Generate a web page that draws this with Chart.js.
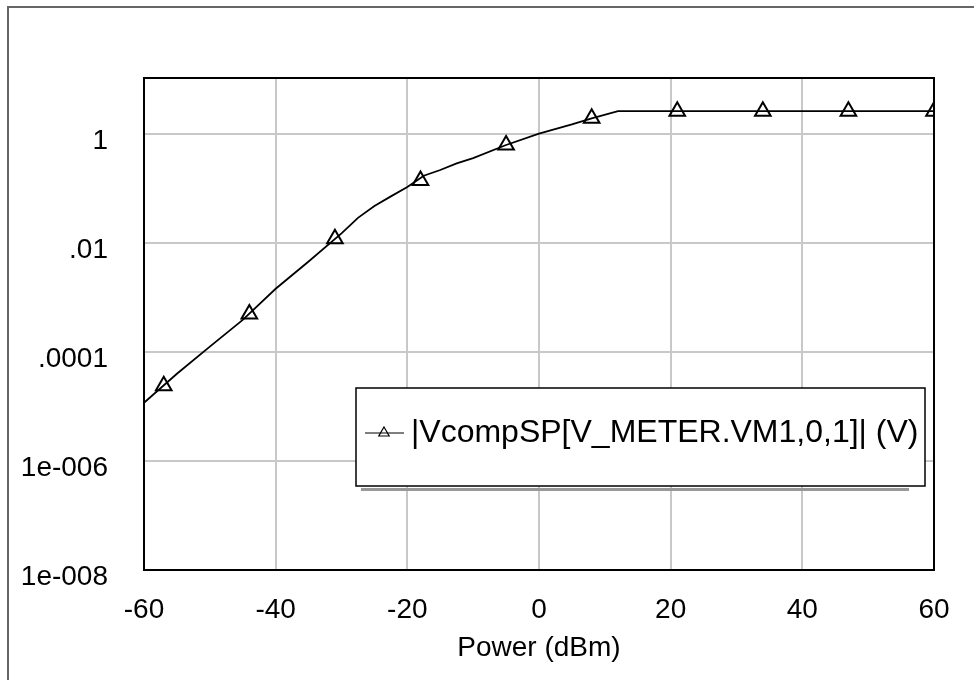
<!DOCTYPE html>
<html>
<head>
<meta charset="utf-8">
<title>VcompSP vs Power</title>
<script src="https://cdn.jsdelivr.net/npm/chart.js@4.4.1/dist/chart.umd.min.js"></script>
<style>
    html, body { margin: 0; padding: 0; background: #fff; }
</style>
</head>
<body>
<canvas id="chart" width="974" height="680"></canvas>
<script>
// Curve: |VcompSP| (V) against input power (dBm)
const powerDbm = [-60, -55, -50, -45, -40, -35, -30, -27.5, -25, -22.5, -20, -17.5, -15, -12.5, -10, -5, 0, 5, 8, 12, 60];
const voltage = [1.17e-5, 4.0e-5, 1.26e-4, 3.9e-4, 1.45e-3, 4.6e-3, 0.0151, 0.029, 0.048, 0.072, 0.107, 0.172, 0.219, 0.29, 0.363, 0.63, 1.02, 1.51, 1.95, 2.63, 2.63];

// Triangle markers along the curve
const markerDbm = [-57, -44, -31, -18, -5, 8, 21, 34, 47, 60];
const markerV = [2.4e-5, 5.0e-4, 0.012, 0.141, 0.63, 1.95, 2.63, 2.63, 2.63, 2.63];

// Axis ticks
const xTicks = [-60, -40, -20, 0, 20, 40, 60];
const yTicks = [1e-8, 1e-6, 1e-4, 1e-2, 1];
const yTickLabels = ['1e-008', '1e-006', '.0001', '.01', '1'];

const seriesName = '|VcompSP[V_METER.VM1,0,1]| (V)';
const xTitle = 'Power (dBm)';

const FONT = '"Liberation Sans", Arial, sans-serif';

// Outer frame, plot border and the boxed legend
const framePlugin = {
    id: 'frame',
    beforeDraw(chart) {
        const ctx = chart.ctx;
        ctx.save();
        ctx.strokeStyle = '#666';
        ctx.lineWidth = 2;
        ctx.beginPath();
        ctx.moveTo(8, chart.height);
        ctx.lineTo(8, 7);
        ctx.lineTo(chart.width, 7);
        ctx.stroke();
        ctx.restore();
    },
    afterDatasetsDraw(chart) {
        const { ctx, chartArea: a } = chart;
        ctx.save();
        ctx.strokeStyle = '#000';
        ctx.lineWidth = 2;
        ctx.strokeRect(a.left, a.top, a.right - a.left, a.bottom - a.top);
        ctx.restore();
    },
    afterDraw(chart) {
        const { ctx, chartArea: a } = chart;
        const left = a.left + 212, right = a.right - 9;
        const top = a.top + 310, bottom = a.top + 408;
        ctx.save();
        // shadow
        ctx.fillStyle = '#999';
        ctx.fillRect(left + 5, bottom + 2, right - left - 21, 3);
        // box
        ctx.fillStyle = '#fff';
        ctx.fillRect(left, top, right - left, bottom - top);
        ctx.strokeStyle = '#000';
        ctx.lineWidth = 1.5;
        ctx.strokeRect(left, top, right - left, bottom - top);
        // sample line + triangle
        const cy = top + 45;
        ctx.lineWidth = 1.2;
        ctx.beginPath();
        ctx.moveTo(left + 9, cy);
        ctx.lineTo(left + 48, cy);
        ctx.stroke();
        const tx = left + 28, r = 6;
        ctx.beginPath();
        ctx.moveTo(tx, cy - r);
        ctx.lineTo(tx + r * 0.866, cy + r * 0.5);
        ctx.lineTo(tx - r * 0.866, cy + r * 0.5);
        ctx.closePath();
        ctx.stroke();
        // label
        ctx.fillStyle = '#000';
        ctx.font = '32px ' + FONT;
        ctx.textAlign = 'left';
        ctx.textBaseline = 'middle';
        ctx.fillText(seriesName, left + 55, cy);
        ctx.restore();
    }
};

const curvePoints = powerDbm.map((p, i) => ({ x: p, y: voltage[i] }));
const markerPoints = markerDbm.map((p, i) => ({ x: p, y: markerV[i] }));

new Chart(document.getElementById('chart').getContext('2d'), {
    type: 'line',
    data: {
        datasets: [{
            label: seriesName,
            data: curvePoints,
            borderColor: '#000',
            borderWidth: 1.8,
            pointRadius: 0,
            tension: 0,
            fill: false
        }, {
            label: seriesName + ' markers',
            data: markerPoints,
            showLine: false,
            pointStyle: 'triangle',
            pointRadius: 9,
            pointBorderWidth: 2,
            pointBorderColor: '#000',
            pointBackgroundColor: 'rgba(0,0,0,0)'
        }]
    },
    options: {
        responsive: false,
        devicePixelRatio: 1,
        animation: false,
        layout: { padding: { left: 0, top: 78, right: 40, bottom: 0 } },
        plugins: {
            legend: { display: false },
            tooltip: { enabled: false }
        },
        scales: {
            x: {
                type: 'linear',
                min: -60,
                max: 60,
                afterBuildTicks: scale => { scale.ticks = xTicks.map(v => ({ value: v })); },
                afterFit: scale => { scale.height = 110; },
                grid: { color: '#c8c8c8', lineWidth: 2, drawTicks: false },
                border: { display: false },
                ticks: {
                    color: '#000',
                    font: { family: FONT, size: 28 },
                    padding: 23,
                    maxRotation: 0
                },
                title: {
                    display: true,
                    text: xTitle,
                    color: '#000',
                    font: { family: FONT, size: 28 },
                    padding: { top: 0, bottom: 15 }
                }
            },
            y: {
                type: 'logarithmic',
                min: 1e-8,
                max: 10.7,
                afterBuildTicks: scale => { scale.ticks = yTicks.map(v => ({ value: v })); },
                afterFit: scale => { scale.width = 144; },
                grid: { color: '#c8c8c8', lineWidth: 2, drawTicks: false },
                border: { display: false },
                ticks: {
                    color: '#000',
                    font: { family: FONT, size: 28 },
                    padding: 36,
                    labelOffset: 7,
                    callback: (value) => {
                        const i = yTicks.findIndex(t => Math.abs(Math.log10(t) - Math.log10(value)) < 1e-6);
                        return i >= 0 ? yTickLabels[i] : '';
                    }
                }
            }
        }
    },
    plugins: [framePlugin]
});
</script>
</body>
</html>
